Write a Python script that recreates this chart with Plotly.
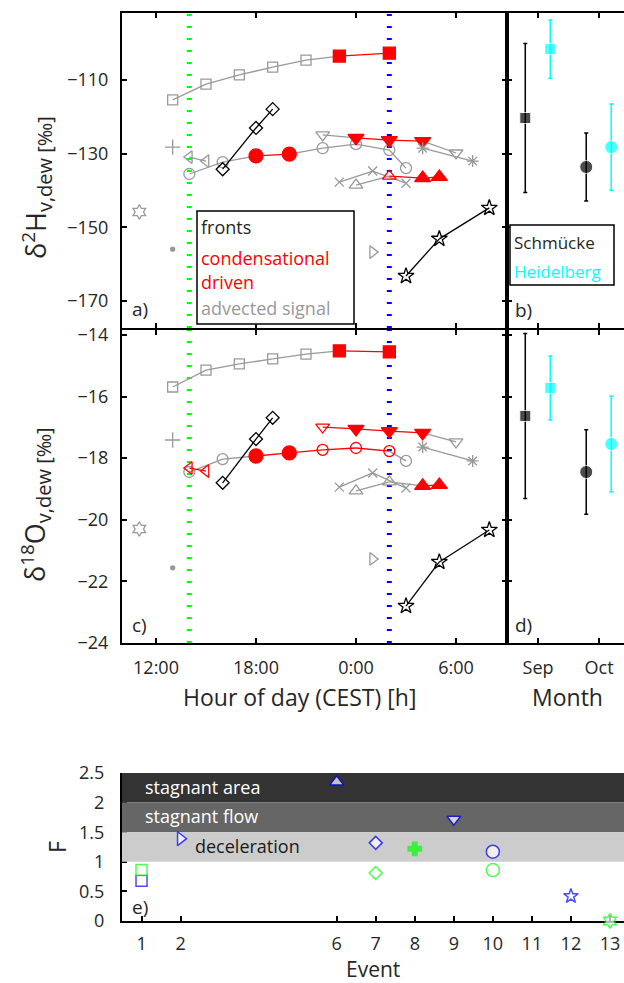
import plotly.graph_objects as go

W, H = 624, 983
def px(x): return x / W
def py(y): return 1 - y / H

GRAY = "#999999"; RED = "#ff0000"; BLACK = "#000000"
CYAN = "#00ffff"; BLUE = "#0000ff"; GREEN = "#00ff00"
TXT = "#262626"

# ---------------- data: panels a (d2H) and c (d18O) ----------------
hour_tickvals = [12, 18, 24, 30]
hour_ticktext = ["12:00", "18:00", "0:00", "6:00"]
front_hours = [14, 26]          # dotted vertical lines (green, blue)

sq_hours = [13, 15, 17, 19, 21, 23, 26]
sq_H = [-115.4, -111.1, -108.6, -106.5, -104.6, -103.5, -102.7]
sq_O = [-15.69, -15.14, -14.94, -14.78, -14.62, -14.52, -14.55]
sq_st_H = ["g", "g", "g", "g", "g", "rf", "rf"]
sq_st_O = ["g", "g", "g", "g", "g", "rf", "rf"]

circ_hours = [14, 16, 18, 20, 22, 24, 26, 27]
circ_H = [-135.5, -132.3, -130.6, -130.1, -128.5, -127.4, -129.0, -133.9]
circ_O = [-18.45, -18.03, -17.93, -17.83, -17.73, -17.67, -17.77, -18.09]
circ_st_H = ["g", "g", "rf", "rf", "g", "g", "g", "g"]
circ_st_O = ["g", "g", "rf", "rf", "ro", "ro", "ro", "g"]

dia_hours = [16, 18, 19]
dia_H = [-134.2, -123.0, -117.9]
dia_O = [-18.80, -17.38, -16.69]
dia_st = ["k", "k", "k"]

tdn_hours = [22, 24, 26, 28, 30]
tdn_H = [-124.9, -125.7, -126.3, -126.6, -129.8]
tdn_O = [-16.99, -17.05, -17.12, -17.18, -17.47]
tdn_st_H = ["g", "rf", "rf", "rf", "g"]
tdn_st_O = ["ro", "rf", "rf", "rf", "g"]

ast_hours = [28, 31]
ast_H = [-128.5, -132.0]
ast_O = [-17.64, -18.09]
ast_st = ["g", "g"]

xm_hours = [23, 25, 27]
xm_H = [-137.7, -134.7, -138.0]
xm_O = [-18.94, -18.48, -18.97]
xm_st = ["g", "g", "g"]

tup_hours = [24, 26, 28, 29]
tup_H = [-138.5, -136.1, -136.6, -136.3]
tup_O = [-19.06, -18.77, -18.90, -18.87]
tup_st_H = ["g", "ro", "rf", "rf"]
tup_st_O = ["g", "g", "rf", "rf"]

tl_hours = [14, 15]
tl_H = [-130.9, -132.0]
tl_O = [-18.32, -18.42]
tl_st_H = ["g", "g"]
tl_st_O = ["ro", "ro"]

plus_hours = [13]; plus_H = [-128.2]; plus_O = [-17.41]
dot_hours = [13]; dot_H = [-155.9]; dot_O = [-21.56]
hex_hours = [11]; hex_H = [-145.8]; hex_O = [-20.30]
tr_hours = [25]; tr_H = [-156.7]; tr_O = [-21.27]

star_hours = [27, 29, 32]
star_H = [-163.2, -153.1, -144.7]
star_O = [-22.80, -21.37, -20.33]
star_st = ["k", "k", "k"]

# ---------------- data: panels b and d ----------------
month_pos = [1, 2]
month_labels = ["Sep", "Oct"]
month_symbols = ["square", "circle"]
schm_H = [-120.3, -133.6]; schm_H_err = [20.2, 9.2]
heid_H = [-101.6, -128.2]; heid_H_err = [7.9, 11.7]
schm_O = [-16.63, -18.45]; schm_O_err = [2.68, 1.37]
heid_O = [-15.72, -17.54]; heid_O_err = [1.04, 1.55]

# ---------------- data: panel e ----------------
event_ticks = [1, 2, 6, 7, 8, 9, 10, 11, 12, 13]
blue_events = [1, 2, 6, 7, 9, 10, 12]
blue_F = [0.68, 1.39, 2.35, 1.32, 1.72, 1.17, 0.42]
blue_symbols = ["square", "triangle-right", "triangle-up", "diamond", "triangle-down", "circle", "star"]
green_events = [1, 7, 8, 10, 13]
green_F = [0.86, 0.81, 1.22, 0.86, 0.0]
green_symbols = ["square", "diamond", "cross", "circle", "hexagram"]
band_low = [2.0, 1.5, 1.0]
band_high = [2.5, 2.0, 1.5]
band_colors = ["#333333", "#666666", "#cccccc"]
band_labels = ["stagnant area", "stagnant flow", "deceleration"]

fig = go.Figure()

THIN = {"asterisk-open", "x-thin-open", "cross-thin-open"}

def add_series(xa, ya, sym, hours, vals, styles, size_open, size_fill):
    segs = {GRAY: ([], []), RED: ([], []), BLACK: ([], [])}
    for i in range(len(hours) - 1):
        s0, s1 = styles[i], styles[i + 1]
        if s0[0] == "r" and s1[0] == "r":
            c = RED
        elif s0 == "k":
            c = BLACK
        else:
            c = GRAY
        segs[c][0].extend([hours[i], hours[i + 1], None])
        segs[c][1].extend([vals[i], vals[i + 1], None])
    for c, (xs, ys) in segs.items():
        if xs:
            fig.add_trace(go.Scatter(x=xs, y=ys, mode="lines", xaxis=xa, yaxis=ya,
                                     line=dict(color=c, width=1.3), showlegend=False,
                                     hoverinfo="skip"))
    for st in ["g", "k", "ro", "rf"]:
        idx = [i for i, s in enumerate(styles) if s == st]
        if not idx:
            continue
        col = {"g": GRAY, "k": BLACK, "ro": RED, "rf": RED}[st]
        if sym in THIN:
            symbol = sym
        elif sym == "dot":
            symbol = "circle"
        elif st == "rf":
            symbol = sym
        else:
            symbol = sym + "-open"
        size = size_fill if st == "rf" else size_open
        if sym == "dot":
            size = 4
        fig.add_trace(go.Scatter(x=[hours[i] for i in idx], y=[vals[i] for i in idx],
                                 mode="markers", xaxis=xa, yaxis=ya, showlegend=False,
                                 marker=dict(symbol=symbol, size=size, color=col,
                                             line=dict(color=col, width=1.3)),
                                 cliponaxis=False))

def add_panel(xa, ya, which):
    O = which == "O"
    add_series(xa, ya, "square", sq_hours, sq_O if O else sq_H, sq_st_O if O else sq_st_H, 10, 12)
    add_series(xa, ya, "circle", circ_hours, circ_O if O else circ_H, circ_st_O if O else circ_st_H, 11, 14)
    add_series(xa, ya, "diamond", dia_hours, dia_O if O else dia_H, dia_st, 10, 10)
    add_series(xa, ya, "triangle-down", tdn_hours, tdn_O if O else tdn_H, tdn_st_O if O else tdn_st_H, 12, 14)
    add_series(xa, ya, "asterisk-open", ast_hours, ast_O if O else ast_H, ast_st, 10, 10)
    add_series(xa, ya, "x-thin-open", xm_hours, xm_O if O else xm_H, xm_st, 9, 9)
    add_series(xa, ya, "triangle-up", tup_hours, tup_O if O else tup_H, tup_st_O if O else tup_st_H, 12, 14)
    add_series(xa, ya, "triangle-left", tl_hours, tl_O if O else tl_H, tl_st_O if O else tl_st_H, 11, 11)
    add_series(xa, ya, "cross-thin-open", plus_hours, plus_O if O else plus_H, ["g"], 11, 11)
    add_series(xa, ya, "dot", dot_hours, dot_O if O else dot_H, ["g"], 4, 4)
    add_series(xa, ya, "hexagram", hex_hours, hex_O if O else hex_H, ["g"], 11, 11)
    add_series(xa, ya, "triangle-right", tr_hours, tr_O if O else tr_H, ["g"], 11, 11)
    add_series(xa, ya, "star", star_hours, star_O if O else star_H, star_st, 12, 12)

add_panel("x", "y", "H")
add_panel("x3", "y3", "O")

def add_month(xa, ya, vals, errs, col, off):
    fig.add_trace(go.Scatter(x=[p + off for p in month_pos], y=vals, mode="markers",
                             xaxis=xa, yaxis=ya, showlegend=False,
                             marker=dict(symbol=month_symbols, size=[11, 13], color=col),
                             error_y=dict(type="data", array=errs, visible=True,
                                          color=col, thickness=1.5, width=2)))

add_month("x2", "y2", schm_H, schm_H_err, BLACK, -0.21)
add_month("x2", "y2", heid_H, heid_H_err, CYAN, 0.2)
add_month("x4", "y4", schm_O, schm_O_err, BLACK, -0.21)
add_month("x4", "y4", heid_O, heid_O_err, CYAN, 0.2)

# panel e bands as horizontal bars (cover axis line, below markers)
fig.add_trace(go.Bar(y=[(a + b) / 2 for a, b in zip(band_low, band_high)],
                     x=[13.5 - 0.5] * 3, base=[0.5] * 3,
                     width=[b - a for a, b in zip(band_low, band_high)],
                     orientation="h", marker=dict(color=band_colors, line=dict(width=0)),
                     xaxis="x5", yaxis="y5", showlegend=False, hoverinfo="skip"))
fig.add_trace(go.Scatter(x=blue_events, y=blue_F, mode="markers", xaxis="x5", yaxis="y5",
                         showlegend=False, cliponaxis=False,
                         marker=dict(symbol=blue_symbols, size=[11, 12, 12, 10, 12, 13, 11],
                                     color="white", line=dict(color=BLUE, width=1.5))))
fig.add_trace(go.Scatter(x=green_events, y=green_F, mode="markers", xaxis="x5", yaxis="y5",
                         showlegend=False, cliponaxis=False,
                         marker=dict(symbol=green_symbols, size=[11, 10, 11, 13, 11],
                                     color=["white", "white", GREEN, "white", "white"],
                                     line=dict(color=GREEN, width=1.5))))

common = dict(showline=True, linecolor="black", linewidth=2, ticks="inside", ticklen=5,
              tickwidth=1.5, tickcolor="black", showgrid=False, zeroline=False,
              automargin=False, tickfont=dict(size=18, color=TXT))

xa_dom = [px(122), px(507)]
xb_dom = [px(507), 1.0]
ya_dom = [py(328), py(13)]
yc_dom = [py(643), py(330)]
rangeH = [-177.3, -91.8]
rangeO = [-24, -13.84]
rangeX = [9.96, 33.06]
rangeM = [0.49, 2.41]

fig.update_layout(
    width=W, height=H, margin=dict(l=0, r=0, t=0, b=0, pad=0), autosize=False,
    plot_bgcolor="white", paper_bgcolor="white",
    font=dict(family="Open Sans", color=TXT),
    xaxis=dict(common, domain=xa_dom, range=rangeX, tickvals=hour_tickvals,
               showticklabels=False, mirror="ticks", anchor="y"),
    yaxis=dict(common, domain=ya_dom, range=rangeH, tickvals=[-170, -150, -130, -110],
               mirror="ticks", anchor="x", ticklabelstandoff=8),
    xaxis2=dict(common, domain=xb_dom, range=rangeM, tickvals=month_pos,
                showticklabels=False, mirror="ticks", anchor="y2"),
    yaxis2=dict(common, domain=ya_dom, range=rangeH, tickvals=[-170, -150, -130, -110],
                showticklabels=False, anchor="x2"),
    xaxis3=dict(common, domain=xa_dom, range=rangeX, tickvals=hour_tickvals,
                ticktext=hour_ticktext, mirror="ticks", anchor="y3", ticklabelstandoff=7),
    yaxis3=dict(common, domain=yc_dom, range=rangeO, tickvals=[-24, -22, -20, -18, -16, -14],
                mirror="ticks", anchor="x3", ticklabelstandoff=8),
    xaxis4=dict(common, domain=xb_dom, range=rangeM, tickvals=month_pos, ticktext=month_labels,
                mirror="ticks", anchor="y4", ticklabelstandoff=7),
    yaxis4=dict(common, domain=yc_dom, range=rangeO, tickvals=[-24, -22, -20, -18, -16, -14],
                showticklabels=False, anchor="x4"),
    xaxis5=dict(common, domain=[px(122), 1.0], range=[0.5, 13.36], tickvals=event_ticks,
                anchor="y5", layer="below traces", ticklabelstandoff=5),
    yaxis5=dict(common, domain=[py(921), py(773)], range=[0, 2.5],
                tickvals=[0, 0.5, 1, 1.5, 2, 2.5], ticktext=["0", "0.5", "1", "1.5", "2", "2.5"],
                anchor="x5", layer="below traces", ticklabelstandoff=12),
)

shapes = []
for xa, ya in [("x", "y"), ("x3", "y3")]:
    for hx, col in zip(front_hours, [GREEN, BLUE]):
        shapes.append(dict(type="line", xref=xa, yref=ya + " domain", x0=hx, x1=hx, y0=0, y1=1,
                           line=dict(color=col, width=5, dash="2px,10px"), layer="below"))
# legend boxes
shapes.append(dict(type="rect", xref="paper", yref="paper", x0=px(197), x1=px(354),
                   y0=py(324), y1=py(211), line=dict(color="black", width=1.5),
                   fillcolor="white", layer="above"))
shapes.append(dict(type="rect", xref="paper", yref="paper", x0=px(510), x1=px(614),
                   y0=py(285), y1=py(225), line=dict(color="black", width=1.5),
                   fillcolor="white", layer="above"))
fig.update_layout(shapes=shapes)

ann = []
def text(x, y, s, size=18, color=TXT, xanchor="left", angle=0):
    ann.append(dict(x=px(x), y=py(y), xref="paper", yref="paper", text=s, showarrow=False,
                    xanchor=xanchor, yanchor="middle", textangle=angle,
                    font=dict(size=size, color=color)))

text(199, 227, "fronts", color=TXT)
text(199, 258, "condensational", color=RED)
text(199, 282, "driven", color=RED)
text(199, 308, "advected signal", color=GRAY)
text(512, 242, "Schmücke", size=17, color=TXT)
text(512, 271, "Heidelberg", size=17, color=CYAN)
text(130, 309, "a)", size=19)
text(513, 310, "b)", size=19)
text(130, 625, "c)", size=19)
text(513, 625, "d)", size=19)
text(130, 907, "e)", size=19)
text(143, 787, band_labels[0], color="white")
text(143, 816, band_labels[1], color="white")
text(193, 846, band_labels[2], color="#1a1a1a")
text(299, 697, "Hour of day (CEST) [h]", size=23, xanchor="center")
text(567, 697, "Month", size=23, xanchor="center")
text(373, 969, "Event", size=21, xanchor="center")
text(57, 847, "F", size=23, xanchor="center", angle=-90)
SUB = "<span style='font-size:20px'>"
text(36, 188, "δ<sup>2</sup>H<sub>" + SUB + "v,dew [‰]</span></sub>", size=27,
     xanchor="center", angle=-90)
text(36, 505, "δ<sup>18</sup>O<sub>" + SUB + "v,dew [‰]</span></sub>", size=27,
     xanchor="center", angle=-90)
fig.update_layout(annotations=ann)

POST = ("document.documentElement.style.margin='0';"
        "document.documentElement.style.overflow='hidden';"
        "document.body.style.margin='0';document.body.style.overflow='hidden';"
        "var gd=document.querySelector('.plotly-graph-div');"
        "gd.style.position='fixed';gd.style.left='0px';gd.style.top='0px';")

fig.write_html("out.html", config={"displayModeBar": False}, post_script=POST)
